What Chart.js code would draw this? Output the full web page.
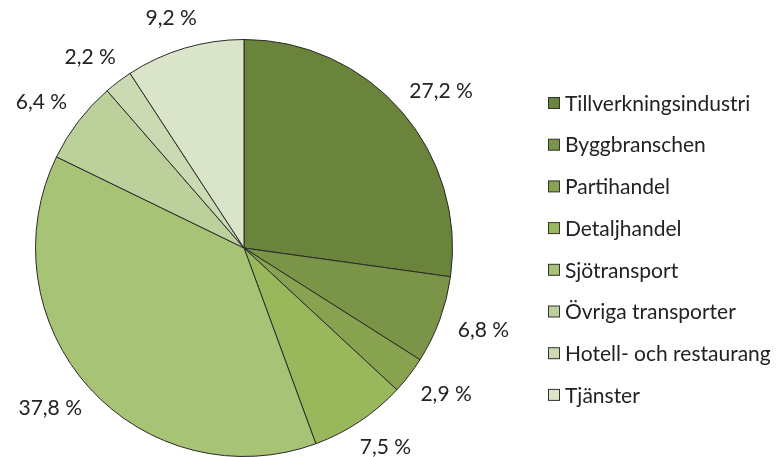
<!DOCTYPE html>
<html>
<head>
<meta charset="utf-8">
<script src="https://cdn.jsdelivr.net/npm/chart.js@4"></script>
<style>
  html, body { margin: 0; padding: 0; background: #fff; overflow: hidden; }
  #wrap { width: 776px; height: 457px; position: relative; }
</style>
</head>
<body>
<div id="wrap"><canvas id="pieChart" width="776" height="457"></canvas></div>
<script>
const categories = ['Tillverkningsindustri', 'Byggbranschen', 'Partihandel', 'Detaljhandel',
  'Sjötransport', 'Övriga transporter', 'Hotell- och restaurang', 'Tjänster'];
const shares = [27.2, 6.8, 2.9, 7.5, 37.8, 6.4, 2.2, 9.2];
const sliceColors = ['#6a843b', '#7a9547', '#87a34f', '#98b85b', '#a7c375', '#bcd09b', '#cbdab2', '#d9e4c9'];

const FONT = 'Lato, "Liberation Sans", sans-serif';

// Percent labels outside each slice (text box hangs off a point just outside the rim)
const outsideLabels = {
  id: 'outsideLabels',
  afterDatasetsDraw(chart) {
    const { ctx } = chart;
    const meta = chart.getDatasetMeta(0);
    ctx.save();
    ctx.font = '21px ' + FONT;
    ctx.fillStyle = '#222';
    ctx.textAlign = 'center';
    ctx.textBaseline = 'middle';
    meta.data.forEach((arc, i) => {
      const p = arc.getProps(['x', 'y', 'startAngle', 'endAngle', 'outerRadius'], true);
      const mid = (p.startAngle + p.endAngle) / 2;
      const text = shares[i].toFixed(1).replace('.', ',') + ' %';
      const hw = ctx.measureText(text).width / 2 + 2;
      const hh = 12;
      const d = p.outerRadius + 19;
      const x = p.x + Math.cos(mid) * d + Math.cos(mid) * hw;
      const y = p.y + Math.sin(mid) * d + Math.sin(mid) * hh;
      ctx.fillText(text, x, y);
    });
    ctx.restore();
  }
};

// Legend drawn at the right side
const sideLegend = {
  id: 'sideLegend',
  afterDraw(chart) {
    const { ctx } = chart;
    const items = Chart.overrides.pie.plugins.legend.labels.generateLabels(chart);
    ctx.save();
    ctx.font = '21px ' + FONT;
    ctx.textBaseline = 'middle';
    items.forEach((item, i) => {
      const y = 103 + i * 41.7;
      ctx.fillStyle = item.fillStyle;
      ctx.fillRect(548.5, y - 5.5, 11, 11);
      ctx.strokeStyle = '#333';
      ctx.lineWidth = 1;
      ctx.strokeRect(548.5, y - 5.5, 11, 11);
      ctx.fillStyle = '#222';
      ctx.fillText(item.text, 565, y + 1);
    });
    ctx.restore();
  }
};

new Chart(document.getElementById('pieChart'), {
  type: 'pie',
  data: {
    labels: categories,
    datasets: [{
      data: shares,
      backgroundColor: sliceColors,
      borderColor: '#2a2a2a',
      borderWidth: 1
    }]
  },
  options: {
    responsive: false,
    animation: false,
    layout: { padding: { left: 35, top: 39, right: 323, bottom: 0 } },
    plugins: {
      legend: { display: false },
      tooltip: { enabled: false }
    }
  },
  plugins: [outsideLabels, sideLegend]
});
</script>
</body>
</html>
